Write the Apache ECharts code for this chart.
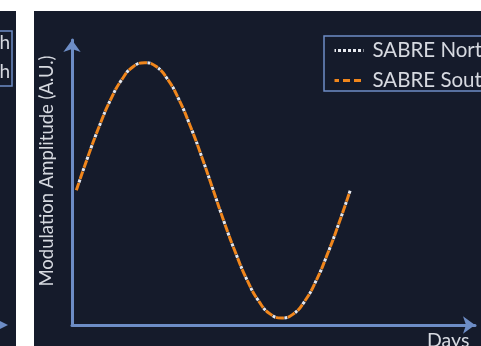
<!DOCTYPE html>
<html>
<head>
<meta charset="utf-8">
<script src="https://cdn.jsdelivr.net/npm/echarts@6/dist/echarts.min.js"></script>
<style>
  html, body {margin: 0; padding: 0; background: #ffffff;}
  #chart {width: 481px; height: 346px;}
</style>
</head>
<body>
<div id="chart"></div>
<script>
// days since start
var days = [0, 15, 30, 45, 60, 75, 90, 105, 120, 135, 150, 165, 180,
            195, 210, 225, 240, 255, 270, 285, 300, 315, 330, 345, 360];
// modulation amplitude (A.U.)
var northValues = [0, 0.26, 0.5, 0.71, 0.87, 0.97, 1, 0.97, 0.87, 0.71, 0.5, 0.26, 0,
                   -0.26, -0.5, -0.71, -0.87, -0.97, -1, -0.97, -0.87, -0.71, -0.5, -0.26, 0];
var southValues = [0, 0.26, 0.5, 0.71, 0.87, 0.97, 1, 0.97, 0.87, 0.71, 0.5, 0.26, 0,
                   -0.26, -0.5, -0.71, -0.87, -0.97, -1, -0.97, -0.87, -0.71, -0.5, -0.26, 0];
var seriesNames = ['SABRE North', 'SABRE South'];

var axisBlue = '#6d8dc6';
var panelBg = '#151b2b';
var textGrey = '#d6d9e0';
var orange = '#f0861c';
var white = '#e6e8ee';

function pairs(xs, ys) {
    return xs.map(function (x, i) { return [x, ys[i]]; });
}

var myChart = echarts.init(document.getElementById('chart'));
myChart.setOption({
    backgroundColor: '#ffffff',
    animation: false,
    textStyle: {fontFamily: 'Lato'},
    graphic: [
        // left neighbour panel (cut off)
        {type: 'rect', z: -100, shape: {x: 0, y: 11, width: 16, height: 335}, style: {fill: panelBg}},
        {type: 'rect', z: -99, shape: {x: -100, y: 31, width: 112, height: 55},
            style: {fill: 'none', stroke: axisBlue, lineWidth: 1.5}},
        {type: 'text', z: -98, x: 10, y: 43, style: {text: 'SABRE North', fill: textGrey, font: '19px Lato', align: 'right', verticalAlign: 'middle'}},
        {type: 'text', z: -98, x: 10, y: 72, style: {text: 'SABRE South', fill: textGrey, font: '19px Lato', align: 'right', verticalAlign: 'middle'}},
        {type: 'polygon', z: -98, shape: {points: [[-4, 319], [8, 325], [-4, 331]]}, style: {fill: axisBlue}},
        // main panel
        {type: 'rect', z: -100, shape: {x: 34, y: 11, width: 447, height: 335}, style: {fill: panelBg}}
    ],
    grid: {left: 72, right: 6, top: 40, bottom: 21, outerBoundsMode: 'none', containLabel: false},
    legend: {
        data: [
            {name: seriesNames[0], lineStyle: {color: white, width: 3, type: [3, 2]}},
            {name: seriesNames[1], lineStyle: {color: orange, width: 3, type: [7, 4]}}
        ],
        orient: 'vertical',
        left: 324,
        top: 36,
        padding: [4, 30, 0, 9],
        itemWidth: 29,
        itemHeight: 14,
        itemGap: 9,
        borderColor: axisBlue,
        borderWidth: 1.5,
        itemStyle: {opacity: 0},
        textStyle: {color: textGrey, fontSize: 20.5, fontFamily: 'Lato', padding: [0, 0, 0, 4]}
    },
    xAxis: {
        type: 'value',
        min: -5.7,
        max: 524,
        name: 'Days',
        nameLocation: 'end',
        nameGap: -48,
        nameTextStyle: {color: textGrey, fontSize: 19.5, verticalAlign: 'top', padding: [6, 0, 0, 0]},
        axisLine: {show: true, onZero: false, symbol: ['none', 'arrow'], symbolSize: [13, 12], lineStyle: {color: axisBlue, width: 3}},
        axisTick: {show: false},
        axisLabel: {show: false},
        splitLine: {show: false}
    },
    yAxis: {
        type: 'value',
        min: -1.055,
        max: 1.178,
        name: 'Modulation Amplitude (A.U.)',
        nameLocation: 'middle',
        nameGap: 15,
        nameTextStyle: {color: textGrey, fontSize: 18.5, padding: [0, 0, 0, 23]},
        axisLine: {show: true, onZero: false, symbol: ['none', 'arrow'], symbolSize: [13, 12], lineStyle: {color: axisBlue, width: 3}},
        axisTick: {show: false},
        axisLabel: {show: false},
        splitLine: {show: false}
    },
    series: [
        {
            name: 'SABRE South',
            type: 'line',
            data: pairs(days, southValues),
            smooth: true,
            symbol: 'none',
            z: 3,
            lineStyle: {color: orange, width: 3, type: [8, 4]},
            itemStyle: {color: orange}
        },
        {
            name: 'SABRE North',
            type: 'line',
            data: pairs(days, northValues),
            smooth: true,
            symbol: 'none',
            z: 2,
            lineStyle: {color: white, width: 3, type: [3, 9], dashOffset: -8.5},
            itemStyle: {color: white}
        }
    ]
});
</script>
</body>
</html>
